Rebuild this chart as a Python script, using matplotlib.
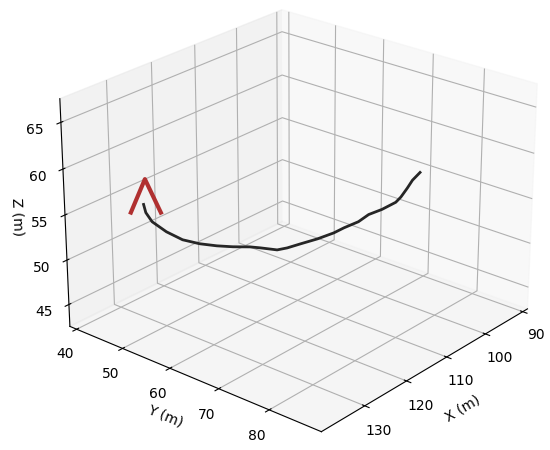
import matplotlib
matplotlib.use("Agg")
import matplotlib.pyplot as plt

# trajectory (m)
x_path = [128.4, 128.22, 127.68, 126.42, 124.99, 123.46, 121.93, 120.49, 118.98, 118.06,
          116.55, 115.65, 114.46, 112.95, 111.51, 110.62, 109.35, 108.46, 107.30, 106.10,
          105.68, 105.16, 104.72, 104.1]
y_path = [44.1, 44.36, 45.15, 46.98, 49.07, 51.28, 53.52, 55.62, 57.82, 59.15,
          61.36, 62.66, 64.39, 66.59, 68.68, 69.98, 71.82, 73.12, 74.82, 76.55,
          77.21, 78.01, 78.65, 79.6]
z_path = [54.6, 53.7, 52.71, 51.65, 50.83, 50.46, 50.31, 50.28, 50.35, 50.29,
          50.14, 50.41, 50.93, 51.57, 52.31, 52.92, 53.66, 54.5, 55.13, 55.97,
          56.58, 57.58, 58.47, 59.35]

# red chevron marker
x_mark = [129.7, 128.2, 126.7]
y_mark = [42.55, 44.35, 46.15]
z_mark = [53.7, 57.4, 53.7]

x_lim = (88.7, 140.0)
y_lim = (38.5, 90.0)
z_lim = (42.5, 67.5)
x_ticks = [90, 100, 110, 120, 130]
y_ticks = [40, 50, 60, 70, 80]
z_ticks = [45, 50, 55, 60, 65]

fig = plt.figure(figsize=(5.5, 4.5), dpi=100)
ax = fig.add_axes([0.035, 0.027, 1.0, 1.0], projection='3d')
ax.plot(x_path, y_path, z_path, color='#262626', lw=2.0)
ax.plot(x_mark, y_mark, z_mark, color='#b03030', lw=3.0)
ax.set_xlim(*x_lim)
ax.set_ylim(*y_lim)
ax.set_zlim(*z_lim)
ax.set_xticks(x_ticks)
ax.set_yticks(y_ticks)
ax.set_zticks(z_ticks)
ax.tick_params(axis='both', pad=1)
ax.tick_params(axis='z', pad=1)
ax.set_xlabel('X (m)', labelpad=0)
ax.set_ylabel('Y (m)', labelpad=-2)
ax.set_zlabel('Z (m)', labelpad=-4)
ax.view_init(elev=24.5, azim=40.2)
ax.set_box_aspect(None, zoom=1.145)
fig.savefig('out.png', dpi=100)
